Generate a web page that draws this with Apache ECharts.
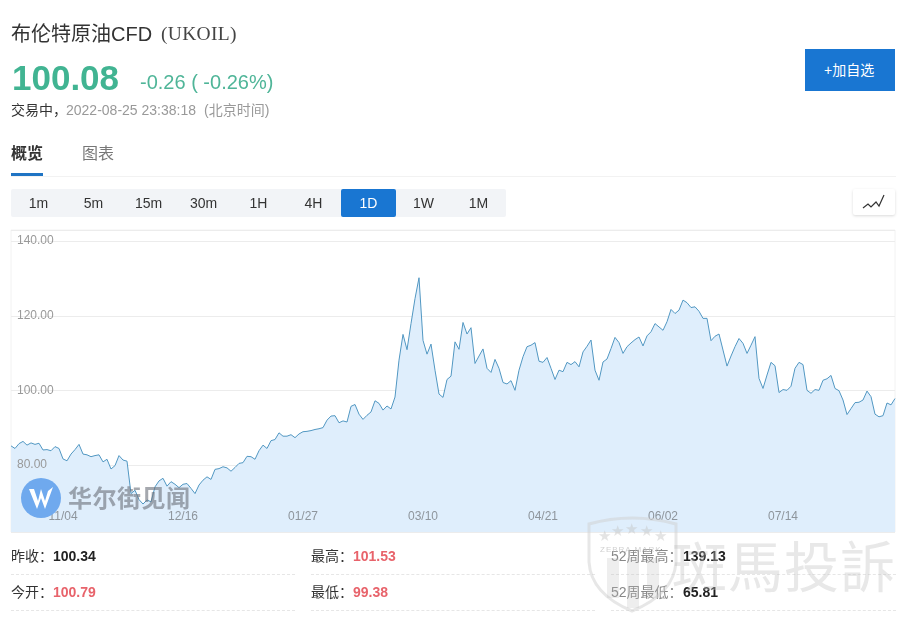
<!DOCTYPE html>
<html><head><meta charset="utf-8">
<script src="https://cdn.jsdelivr.net/npm/echarts@6/dist/echarts.min.js"></script>
<style>
html,body{margin:0;padding:0;background:#fff}
#page{position:relative;width:912px;height:626px;overflow:hidden;font-family:"Liberation Sans","Noto Sans CJK SC",sans-serif;color:#333}
.t{position:absolute;white-space:nowrap;line-height:1}
.box{position:absolute}
#chart{position:absolute;left:0;top:0;width:912px;height:626px}
.tf{position:absolute;top:189px;width:55px;height:28px;line-height:28px;text-align:center;font-size:14px;color:#333}
.dash{position:absolute;height:0;border-top:1px dashed #e6e6e6}
.wm{pointer-events:none}
</style></head><body><div id="page">
<div id="chart"></div>
<div id="dom"></div>
</div>
<script>
const title = '布伦特原油CFD';
const symbol = '(UKOIL)';
const price = '100.08';
const change = '-0.26 ( -0.26%)';
const statusLabel = '交易中，';
const stamp = '2022-08-25 23:38:18';
const zone = '(北京时间)';
const tabs = ['概览', '图表'];
const frames = ['1m','5m','15m','30m','1H','4H','1D','1W','1M'];
const activeFrame = '1D';
const yTicks = [80, 100, 120, 140];
const xTicks = ['11/04','12/16','01/27','03/10','04/21','06/02','07/14'];
const dates = [
'10/18','10/19','10/20','10/21','10/22','10/25','10/26','10/27','10/28','10/29',
'11/01','11/02','11/03','11/04','11/05','11/08','11/09','11/10','11/11','11/12',
'11/15','11/16','11/17','11/18','11/19','11/22','11/23','11/24','11/25','11/26',
'11/29','11/30','12/01','12/02','12/03','12/06','12/07','12/08','12/09','12/10',
'12/13','12/14','12/15','12/16','12/17','12/20','12/21','12/22','12/23','12/24',
'12/27','12/28','12/29','12/30','12/31','01/03','01/04','01/05','01/06','01/07',
'01/10','01/11','01/12','01/13','01/14','01/17','01/18','01/19','01/20','01/21',
'01/24','01/25','01/26','01/27','01/28','01/31','02/01','02/02','02/03','02/04',
'02/07','02/08','02/09','02/10','02/11','02/14','02/15','02/16','02/17','02/18',
'02/21','02/22','02/23','02/24','02/25','02/28','03/01','03/02','03/03','03/04',
'03/07','03/08','03/09','03/10','03/11','03/14','03/15','03/16','03/17','03/18',
'03/21','03/22','03/23','03/24','03/25','03/28','03/29','03/30','03/31','04/01',
'04/04','04/05','04/06','04/07','04/08','04/11','04/12','04/13','04/14','04/15',
'04/18','04/19','04/20','04/21','04/22','04/25','04/26','04/27','04/28','04/29',
'05/02','05/03','05/04','05/05','05/06','05/09','05/10','05/11','05/12','05/13',
'05/16','05/17','05/18','05/19','05/20','05/23','05/24','05/25','05/26','05/27',
'05/30','05/31','06/01','06/02','06/03','06/06','06/07','06/08','06/09','06/10',
'06/13','06/14','06/15','06/16','06/17','06/20','06/21','06/22','06/23','06/24',
'06/27','06/28','06/29','06/30','07/01','07/04','07/05','07/06','07/07','07/08',
'07/11','07/12','07/13','07/14','07/15','07/18','07/19','07/20','07/21','07/22',
'07/25','07/26','07/27','07/28','07/29','08/01','08/02','08/03','08/04','08/05',
'08/08','08/09','08/10','08/11','08/12','08/15','08/16','08/17','08/18','08/19',
'08/22','08/23'];
const closes = [
85.1,84.4,85.7,86.3,85.3,85.9,85.5,85.8,84.0,84.1,
83.8,84.9,84.4,81.6,81.1,82.9,84.1,85.5,82.9,82.7,
82.2,82.5,82.7,80.8,81.5,78.9,79.8,82.5,81.3,81.0,
72.3,73.2,70.7,69.5,70.6,70.1,74.1,75.7,76.4,74.3,
75.5,74.8,73.9,74.8,75.0,73.7,72.3,74.6,75.9,76.8,
76.1,78.8,79.0,79.5,79.2,78.3,79.3,80.4,80.6,82.3,
82.2,81.5,83.8,85.3,84.4,86.5,86.8,88.6,87.7,87.7,
88.1,87.3,88.3,88.9,89.0,89.2,89.5,89.7,90.0,92.0,
93.1,93.2,91.3,91.8,91.5,95.7,96.2,93.6,92.2,93.3,
94.2,97.2,96.5,94.7,95.8,95.0,98.2,108.1,115.0,110.9,
117.9,124.6,130.2,113.4,109.7,112.4,105.4,99.0,98.1,102.9,
103.8,113.0,111.0,118.2,115.1,116.8,107.2,109.2,111.1,105.9,
104.8,108.3,105.9,102.1,101.7,102.6,100.0,105.4,109.0,111.7,
112.1,112.8,107.8,107.5,108.8,105.9,102.9,105.4,105.0,107.5,
106.9,107.7,106.3,110.3,111.8,113.5,105.4,102.7,107.6,108.4,
111.2,114.2,112.8,109.9,111.7,112.7,113.6,114.3,111.9,114.6,
115.7,117.9,117.0,116.1,118.4,121.7,120.6,121.5,124.2,123.5,
122.2,122.4,121.2,119.3,119.3,113.3,114.5,115.1,110.8,106.5,
109.2,111.7,113.9,112.6,109.9,112.1,114.4,103.2,100.5,104.1,
107.5,106.6,99.4,100.2,100.0,101.1,105.9,107.5,106.9,100.0,
99.2,100.2,100.0,102.7,103.1,104.0,100.5,99.9,97.4,93.5,
95.1,96.7,96.8,97.4,99.8,98.3,93.6,92.9,93.2,96.6,
96.1,97.8];
const stats = [
 ['昨收：','100.34','#222',11,53,556],
 ['今开：','100.79','#e8636b',11,53,592],
 ['最高：','101.53','#e8636b',311,353,556],
 ['最低：','99.38','#e8636b',311,353,592],
 ['52周最高：','139.13','#222',611,683,556],
 ['52周最低：','65.81','#222',611,683,592]
];

const dom = document.getElementById('dom');
function text(s, x, cy, size, color, extra){
  const d = document.createElement('div');
  d.className = 't';
  d.textContent = s;
  d.style.cssText = `left:${x}px;top:${cy - size/2}px;font-size:${size}px;color:${color};${extra||''}`;
  dom.appendChild(d); return d;
}
function box(x,y,w,h,bg,extra){
  const d = document.createElement('div');
  d.className='box';
  d.style.cssText=`left:${x}px;top:${y}px;width:${w}px;height:${h}px;background:${bg};${extra||''}`;
  dom.appendChild(d); return d;
}
text(title,11,34,20,'#333');
text(symbol,161,34,19.5,'#444','font-family:"Liberation Serif",serif;letter-spacing:.3px;');
text(price,12,77,35,'#41b492','font-weight:bold;');
text(change,140,82,20,'#4fb598');
text(statusLabel,11,110,14,'#333');
text(stamp,66,110,14,'#999');
text(zone,204,110,14,'#999');
text(tabs[0],11,154,16,'#333','font-weight:bold;');
text(tabs[1],82,154,16,'#777');
box(11,173,32,3,'#1f74c4');
box(11,176,885,1,'#f2f2f2');
box(805,49,90,42,'#1976d2');
text('+加自选',824,70,14,'#fff');
box(11,189,495,28,'#f2f4f7','border-radius:2px;');
frames.forEach((f,i)=>{
  const d=document.createElement('div');
  d.className='tf'; d.textContent=f;
  d.style.left=(11+55*i)+'px';
  if(f===activeFrame){d.style.background='#1976d2';d.style.color='#fff';d.style.borderRadius='2px';}
  dom.appendChild(d);
});
box(853,189,42,26,'#fff','box-shadow:0 1px 3px rgba(0,0,0,.15);border-radius:2px;');
stats.forEach(r=>{
  text(r[0],r[3],r[5],14,r[3]===611?'#888':'#333');
  text(r[1],r[4],r[5],14,r[2],'font-weight:bold;');
});
[[11,284],[311,284],[611,285]].forEach(c=>{
  [574,610].forEach(y=>{
    const d=document.createElement('div');d.className='dash';
    d.style.cssText=`left:${c[0]}px;top:${y}px;width:${c[1]}px;`;dom.appendChild(d);
  });
});
const NS='http://www.w3.org/2000/svg';
dom.insertAdjacentHTML('beforeend',`
<svg class="wm" style="position:absolute;left:0;top:0;pointer-events:none" width="912" height="626" xmlns="${NS}">
  <polyline points="863,208 868,204 871,207 876,202 879,206 884,195" fill="none" stroke="#333" stroke-width="1.2"/>
  <circle cx="41" cy="498" r="20" fill="#6fa9ee"/>
  <path d="M29 489 L37 509 L41 498 L45 509 L53 487 L48 491 L45 501 L41 489 L38 501 L34 489 Z" fill="#fff"/>
  <g fill="none" stroke="#cfcfcf" stroke-opacity=".5" stroke-width="3">
    <path d="M589 524 Q632 512 676 524 L676 562 Q674 594 632 611 Q591 594 589 562 Z"/>
  </g>
  <g fill="#bdbdbd" fill-opacity=".25">
    <rect x="607" y="558" width="12" height="40"/><rect x="627" y="558" width="12" height="50"/><rect x="647" y="558" width="12" height="40"/>
  </g>
  <g fill="#c4c4c4" fill-opacity=".45" font-size="15" font-family="DejaVu Sans">
    <text x="598" y="541">★</text><text x="611" y="536">★</text><text x="625" y="534">★</text><text x="640" y="536">★</text><text x="654" y="541">★</text>
  </g>
  <text x="600" y="552" font-size="8" fill="#bbb" fill-opacity=".7" font-family="Liberation Sans" letter-spacing="1">ZEBRA MARK</text>
</svg>`);
text('华尔街见闻',68,497,24,'rgba(110,115,125,.62)','font-family:"Noto Sans CJK SC";font-weight:bold;letter-spacing:.5px;');
text('斑馬投訴',672,563,55,'rgba(190,190,190,.36)','font-family:"Noto Sans CJK TC";letter-spacing:1px;');

const chart = echarts.init(document.getElementById('chart'), null, {renderer:'canvas'});
chart.setOption({
  animation:false,
  grid:{left:11,right:17,top:230,bottom:94,show:true,borderColor:'#f2f2f2',borderWidth:1,backgroundColor:'transparent'},
  xAxis:{type:'category',data:dates,boundaryGap:false,z:6,
    axisLine:{show:false},axisTick:{show:false},splitLine:{show:false},
    axisLabel:{inside:true,margin:9,color:'#8e959c',fontSize:12,fontFamily:'Liberation Sans',
      interval:(i,v)=>xTicks.includes(v)}},
  yAxis:[
    {type:'value',min:62,max:143,z:0,
      axisLine:{show:false},axisTick:{show:false},axisLabel:{show:false},
      splitLine:{show:true,lineStyle:{color:'#ececec',width:1}}},
    {type:'value',min:62,max:143,position:'left',z:6,
      axisLine:{show:false},axisTick:{show:false},splitLine:{show:false},
      axisLabel:{inside:true,margin:6,color:'#999',fontSize:12,fontFamily:'Liberation Sans',verticalAlign:'middle',
        customValues:yTicks,formatter:v=>v.toFixed(2)}}
  ],
  series:[{type:'line',data:closes,yAxisIndex:0,symbol:'none',smooth:false,
    lineStyle:{color:'#5197c2',width:1},
    areaStyle:{color:'#dfeefc',opacity:1}}]
});
</script></body></html>
